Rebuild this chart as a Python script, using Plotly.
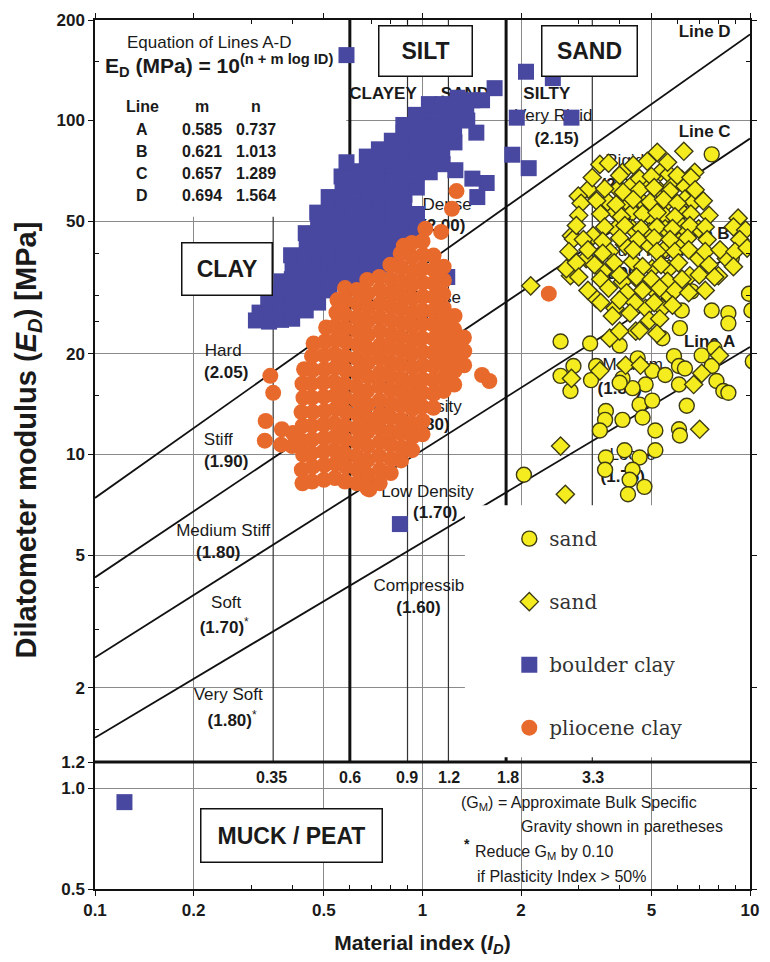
import math
import plotly.graph_objects as go

# ------------------------------------------------------------------ data
line_names = ["A", "B", "C", "D"]
line_m = [0.585, 0.621, 0.657, 0.694]
line_n = [0.737, 1.013, 1.289, 1.564]

class_bounds = [0.35, 0.6, 0.9, 1.2, 1.8, 3.3]
class_labels = ["0.35", "0.6", "0.9", "1.2", "1.8", "3.3"]

x_ticks = [0.1, 0.2, 0.5, 1, 2, 5, 10]
x_tick_text = ["0.1", "0.2", "0.5", "1", "2", "5", "10"]
y_ticks = [0.5, 1.0, 1.2, 2, 5, 10, 20, 50, 100, 200]
y_tick_text = ["0.5", "1.0", "1.2", "2", "5", "10", "20", "50", "100", "200"]
x_minor = [0.3, 0.4, 0.6, 0.7, 0.8, 0.9, 3, 4, 6, 7, 8, 9]
y_minor = [1.5, 3, 4, 15, 25, 30, 40, 150]

sand_circle = [
    (2.64, 21.8), (3.25, 21.5), (2.89, 18.4), (2.64, 17.2), (2.83, 15.5), (3.27, 16.7), (3.39, 18.4),
    (4.0, 21.2), (5.4, 22.3), (6.19, 27.0), (6.11, 23.9), (7.64, 27.0), (8.59, 26.5), (8.59, 24.7),
    (9.93, 30.3), (10.1, 27.0), (6.64, 30.8), (5.86, 19.7), (6.07, 18.4), (7.12, 19.8), (7.79, 20.8),
    (6.33, 18.1), (7.64, 18.4), (7.9, 16.6), (8.29, 15.5), (8.59, 15.3), (10.2, 19.0), (5.03, 17.8),
    (4.8, 16.2), (4.38, 15.8), (4.54, 19.4), (4.08, 16.9), (4.0, 16.4), (4.6, 14.1), (5.03, 14.5),
    (4.7, 12.9), (6.41, 14.0), (6.07, 16.2), (5.51, 17.3), (3.63, 13.5), (3.61, 12.7), (4.08, 12.7),
    (3.48, 11.8), (5.14, 11.8), (6.07, 11.9), (6.11, 11.4), (4.14, 10.3), (4.6, 9.8), (5.14, 10.3),
    (3.63, 9.8), (3.61, 9.0), (4.38, 9.0), (4.29, 8.4), (4.76, 8.0), (4.24, 7.6), (2.04, 8.7),
    (7.64, 79.2), (8.8, 38.8),
]

sand_diamond = [
    (6.28, 80.9), (5.21, 80.3), (4.86, 75.5), (3.48, 73.9), (4.08, 70.0), (5.32, 70.0), (5.66, 69.1),
    (6.78, 70.0), (6.19, 66.7), (3.21, 62.3), (2.99, 59.4), (3.95, 62.3), (4.38, 64.5), (4.96, 64.5),
    (5.32, 61.5), (5.78, 63.6), (6.33, 63.6), (3.68, 57.0), (4.17, 57.5), (4.70, 57.0), (5.51, 56.2),
    (6.33, 58.2), (6.73, 57.0), (3.89, 53.2), (4.38, 53.2), (4.93, 51.8), (5.51, 51.8), (6.19, 53.2),
    (2.85, 45.2), (3.32, 45.2), (3.89, 47.4), (4.38, 47.4), (4.93, 46.4), (5.51, 47.4), (6.19, 48.4),
    (6.97, 47.4), (2.14, 32.0), (2.89, 44.2), (2.83, 34.3), (2.75, 36.0), (3.16, 38.6), (3.39, 29.3),
    (3.87, 27.4), (3.56, 35.3), (3.73, 40.5), (4.17, 42.2), (4.38, 37.8), (4.93, 42.2), (5.51, 41.3),
    (6.07, 43.4), (6.97, 38.6), (8.01, 34.3), (8.47, 38.6), (6.55, 34.3), (5.66, 36.0), (5.03, 36.0),
    (4.08, 32.9), (4.60, 32.9), (5.03, 31.4), (5.66, 29.9), (4.80, 27.4), (5.40, 27.4), (4.93, 25.2),
    (4.48, 23.4), (3.73, 22.3), (4.0, 23.4), (3.48, 17.8), (2.85, 16.9), (4.17, 18.5), (4.63, 18.5),
    (6.73, 16.2), (7.12, 17.5), (8.07, 19.8), (7.02, 11.9), (2.64, 10.6), (2.73, 7.6),
    (3.7, 74.5), (4.4, 73.5), (5.6, 75.0),
    (3.3, 67.5), (4.0, 68.5), (4.6, 67.0), (5.0, 68.0), (6.0, 68.5), (6.6, 67.5),
    (3.6, 62.5), (4.1, 61.0), (4.6, 62.0), (5.1, 63.0), (5.7, 61.5), (6.8, 62.0),
    (3.05, 56.5), (3.4, 57.5), (3.9, 56.0), (4.4, 58.0), (4.95, 57.0), (5.45, 58.0), (6.0, 56.5), (7.2, 57.5),
    (3.0, 52.0), (3.5, 52.5), (4.05, 51.5), (4.7, 52.5), (5.2, 53.0), (5.9, 51.5), (6.6, 52.5), (7.5, 52.0), (9.2, 51.0),
    (2.95, 48.5), (3.6, 48.0), (4.15, 48.5), (4.65, 47.5), (5.2, 48.0), (5.8, 47.5), (6.55, 48.5), (7.3, 48.0),
    (8.9, 48.0), (9.7, 47.0),
    (3.1, 44.0), (3.55, 43.5), (4.0, 44.5), (4.55, 44.0), (5.1, 44.5), (5.7, 44.0), (6.45, 44.5), (7.4, 44.0), (9.3, 44.0),
    (2.8, 40.5), (3.2, 41.0), (3.55, 40.0), (4.4, 41.0), (5.2, 40.5), (5.9, 40.5), (6.5, 41.0), (7.3, 40.5),
    (8.1, 41.0), (9.0, 40.5), (9.8, 41.5),
    (2.95, 37.5), (3.35, 37.0), (3.85, 37.5), (4.7, 36.5), (5.35, 37.0), (6.05, 37.5), (7.5, 37.0), (8.9, 36.5),
    (3.0, 34.0), (3.5, 33.5), (4.0, 34.5), (4.5, 34.0), (5.0, 33.5), (5.6, 33.0), (6.2, 33.5), (7.0, 34.5), (7.8, 34.0),
    (3.2, 31.0), (3.7, 31.5), (4.2, 30.5), (4.7, 31.0), (5.3, 31.5), (5.9, 31.0), (6.5, 30.5), (7.3, 31.0),
    (3.5, 28.5), (4.0, 29.0), (4.45, 28.5), (5.1, 28.5), (5.8, 28.0),
    (3.8, 26.0), (4.3, 26.5), (5.3, 25.5), (4.6, 23.5), (5.2, 23.0),
]

boulder_clay = [
    (0.31, 25.2), (0.318, 26.6),
    (0.34, 25.0), (0.343, 27.3), (0.338, 29.4),
    (0.37, 25.3), (0.372, 27.8), (0.368, 30.5), (0.371, 33.0),
    (0.40, 25.5), (0.398, 28.0), (0.402, 30.8), (0.399, 33.5), (0.401, 36.5), (0.397, 39.5),
    (0.44, 27.0), (0.438, 29.5), (0.442, 32.5), (0.44, 35.5), (0.437, 39.0), (0.443, 42.5), (0.44, 46.0),
    (0.48, 28.5), (0.482, 31.5), (0.478, 34.5), (0.481, 38.0), (0.479, 41.5), (0.483, 45.5), (0.48, 50.0), (0.477, 53.0),
    (0.52, 31.0), (0.522, 34.0), (0.518, 37.5), (0.521, 41.0), (0.519, 45.0), (0.523, 49.0), (0.52, 54.0), (0.517, 59.0),
    (0.57, 33.0), (0.568, 36.5), (0.572, 40.0), (0.569, 44.0), (0.571, 48.0), (0.567, 52.5), (0.573, 57.5), (0.57, 63.0), (0.566, 68.0),
    (0.62, 34.0), (0.618, 37.5), (0.622, 41.0), (0.619, 45.0), (0.621, 49.5), (0.617, 54.0), (0.623, 59.0), (0.62, 64.5), (0.618, 70.5),
    (0.68, 35.0), (0.678, 38.5), (0.682, 42.0), (0.679, 46.0), (0.681, 50.5), (0.677, 55.0), (0.683, 60.0), (0.68, 66.0), (0.678, 72.0), (0.676, 78.0),
    (0.74, 37.0), (0.738, 40.5), (0.742, 44.5), (0.739, 48.5), (0.741, 53.0), (0.737, 58.0), (0.743, 63.5), (0.74, 69.5), (0.738, 76.0), (0.736, 82.0),
    (0.81, 39.0), (0.808, 43.0), (0.812, 47.0), (0.809, 51.5), (0.811, 56.0), (0.807, 61.5), (0.813, 67.0), (0.81, 73.5), (0.808, 80.0), (0.806, 87.0),
    (0.88, 42.0), (0.878, 46.0), (0.882, 50.0), (0.879, 55.0), (0.881, 60.0), (0.877, 65.5), (0.883, 71.5), (0.88, 78.0), (0.878, 85.0), (0.876, 92.0), (0.874, 97.0),
    (0.96, 44.0), (0.958, 48.0), (0.962, 52.5), (0.961, 63.0), (0.957, 69.0), (0.963, 75.0), (0.96, 82.0), (0.958, 89.0), (0.956, 97.0), (0.954, 104.0),
    (1.052, 70.0), (1.049, 76.5), (1.051, 83.5), (1.047, 91.0), (1.053, 99.0), (1.05, 107.0), (1.046, 112.0),
    (1.152, 74.0), (1.149, 81.0), (1.151, 88.0), (1.147, 96.0), (1.153, 104.0), (1.15, 112.0),
    (1.252, 86.0), (1.249, 94.0), (1.251, 102.0), (1.247, 110.0),
    (1.37, 100.0), (1.36, 110.0),
    (0.586, 157.0), (0.586, 75.0), (1.28, 117.0), (1.42, 115.0), (1.52, 115.0), (1.66, 125.0), (2.07, 140.0),
    (2.5, 134.0), (1.94, 102.0), (2.85, 102.0), (1.46, 92.0), (1.88, 79.0), (2.11, 72.0), (1.57, 65.0),
    (1.47, 59.0), (1.26, 71.0), (1.42, 67.0), (1.19, 34.0), (0.853, 6.19), (0.123, 0.91),
]

pliocene_clay = [
    (0.33, 11.0), (0.332, 12.6), (0.343, 17.2), (0.35, 15.3), (0.37, 10.7), (0.372, 11.9),
    (0.40, 10.6), (0.402, 11.6),
    (0.43, 8.2), (0.428, 9.0), (0.432, 10.0), (0.429, 11.0), (0.431, 12.2), (0.427, 13.4), (0.433, 14.8), (0.43, 16.3), (0.435, 18.0),
    (0.46, 8.3), (0.462, 9.2), (0.458, 10.1), (0.461, 11.1), (0.459, 12.2), (0.463, 13.4), (0.46, 14.8), (0.457, 16.3), (0.462, 17.9), (0.46, 19.7), (0.465, 21.5),
    (0.50, 8.4), (0.502, 9.3), (0.498, 10.2), (0.501, 11.2), (0.499, 12.3), (0.503, 13.5), (0.50, 14.9), (0.497, 16.4), (0.502, 18.0), (0.50, 19.8), (0.504, 21.8), (0.508, 24.0),
    (0.54, 8.5), (0.542, 9.4), (0.538, 10.3), (0.541, 11.3), (0.539, 12.4), (0.543, 13.7), (0.54, 15.0), (0.537, 16.5), (0.542, 18.2), (0.54, 20.0), (0.544, 22.0), (0.541, 24.2), (0.546, 26.6), (0.55, 29.0),
    (0.58, 8.3), (0.582, 9.2), (0.578, 10.1), (0.581, 11.1), (0.579, 12.2), (0.583, 13.4), (0.58, 14.8), (0.577, 16.3), (0.582, 17.9), (0.58, 19.7), (0.584, 21.7), (0.581, 23.9), (0.579, 26.3), (0.583, 28.9), (0.58, 31.5),
    (0.63, 8.2), (0.632, 9.0), (0.628, 9.9), (0.631, 10.9), (0.629, 12.0), (0.633, 13.2), (0.63, 14.5), (0.627, 16.0), (0.632, 17.6), (0.63, 19.4), (0.634, 21.3), (0.631, 23.4), (0.629, 25.7), (0.633, 28.3), (0.63, 31.1),
    (0.68, 7.9), (0.682, 8.7), (0.678, 9.6), (0.681, 10.6), (0.679, 11.7), (0.683, 12.8), (0.68, 14.1), (0.677, 15.5), (0.682, 17.1), (0.68, 18.8), (0.684, 20.7), (0.681, 22.8), (0.679, 25.0), (0.683, 27.5), (0.68, 30.3), (0.678, 33.3),
    (0.74, 8.2), (0.742, 9.0), (0.738, 9.9), (0.741, 10.9), (0.739, 12.0), (0.743, 13.2), (0.74, 14.5), (0.737, 16.0), (0.742, 17.6), (0.74, 19.4), (0.744, 21.3), (0.741, 23.4), (0.739, 25.7), (0.743, 28.3), (0.74, 31.1), (0.738, 34.0),
    (0.80, 8.8), (0.802, 9.7), (0.798, 10.7), (0.801, 11.7), (0.799, 12.9), (0.803, 14.2), (0.80, 15.6), (0.797, 17.2), (0.802, 18.9), (0.80, 20.8), (0.804, 22.9), (0.801, 25.2), (0.799, 27.7), (0.803, 30.5), (0.80, 33.5), (0.798, 37.0),
    (0.86, 9.6), (0.862, 10.5), (0.858, 11.6), (0.861, 12.7), (0.859, 14.0), (0.863, 15.4), (0.86, 16.9), (0.857, 18.6), (0.862, 20.5), (0.86, 22.5), (0.864, 24.8), (0.861, 27.3), (0.859, 30.0), (0.863, 33.0), (0.86, 36.3), (0.858, 40.0), (0.877, 42.2),
    (0.93, 10.3), (0.932, 11.3), (0.928, 12.4), (0.931, 13.7), (0.929, 15.0), (0.933, 16.5), (0.93, 18.2), (0.927, 20.0), (0.932, 22.0), (0.93, 24.2), (0.934, 26.6), (0.931, 29.3), (0.929, 32.2), (0.933, 35.4), (0.93, 39.0), (0.928, 43.0),
    (1.00, 11.5), (1.002, 12.6), (0.998, 13.9), (1.001, 15.3), (0.999, 16.8), (1.003, 18.5), (1.00, 20.3), (0.997, 22.3), (1.002, 24.6), (1.00, 27.0), (1.004, 29.7), (1.001, 32.7), (0.999, 36.0), (1.003, 39.6), (1.00, 43.5), (1.02, 47.4),
    (1.08, 13.8), (1.082, 15.2), (1.078, 16.7), (1.081, 18.4), (1.079, 20.2), (1.083, 22.2), (1.08, 24.5), (1.077, 26.9), (1.082, 29.6), (1.08, 32.6), (1.084, 35.8), (1.081, 39.4), (1.14, 46.4),
    (1.16, 15.5), (1.162, 17.0), (1.158, 18.7), (1.161, 20.6), (1.159, 22.7), (1.163, 25.0), (1.16, 27.5), (1.157, 30.2), (1.162, 33.2), (1.16, 36.5),
    (1.25, 16.2), (1.252, 17.8), (1.248, 19.6), (1.251, 21.5), (1.249, 23.7), (1.253, 26.0), (1.23, 54.4), (1.27, 61.5),
    (1.34, 18.5), (1.342, 20.4), (1.338, 22.4),
    (1.52, 17.3), (1.60, 16.6), (2.43, 30.3), (0.688, 7.86),
]

# ------------------------------------------------------------------ geometry helpers (label placement)
W, H = 770, 962
PL, PR, PT, PB = 95, 759, 20, 894
YLO, YHI = math.log10(0.5), math.log10(200)


def xdat(px):
    return 10 ** (-1 + 2 * (px - PL) / (PR - PL))


def ydat(py):
    return 10 ** (YLO + (PB - py) / (PB - PT) * (YHI - YLO))


def pap(px, py):
    return (px - PL) / (PR - PL), (PB - py) / (PB - PT)


FONT = "Liberation Sans, Arial, sans-serif"
INK = "#1a1a1a"

# ------------------------------------------------------------------ figure
fig = go.Figure()

# labels that sit underneath the data markers
under_labels = [
    ("<b>CLAYEY</b>", 387, 95), ("<b>SAND</b>", 470, 95), ("<b>SILTY</b>", 553, 95),
    ("Very Rigid", 560, 117), ("<b>(2.15)</b>", 563, 140),
    ("Rigid", 632, 163), ("<b>(2.00)</b>", 630, 187),
    ("Medium Rigid", 640, 253), ("<b>(1.95)</b>", 628, 276),
    ("Medium", 640, 368), ("<b>(1.85)</b>", 627, 392),
    ("Loose", 640, 458), ("<b>(1.75)</b>", 630, 480),
    ("<b>Line D</b>", 713, 33), ("<b>Line C</b>", 713, 133),
    ("<b>Line B</b>", 712, 236), ("<b>Line A</b>", 718, 345),
    ("Dense", 452, 207), ("<b>(2.00)</b>", 448, 228),
    ("Medium Dense", 408, 300), ("<b>(1.90)</b>", 432, 322),
    ("Medium Density", 405, 410), ("<b>(1.80)</b>", 432, 428),
    ("Low Density", 432, 495), ("<b>(1.70)</b>", 440, 517),
    ("Compressible", 430, 590), ("<b>(1.60)</b>", 423, 612),
    ("Hard", 225, 354), ("<b>(2.05)</b>", 228, 376),
    ("Stiff", 220, 443), ("<b>(1.90)</b>", 228, 465),
    ("Medium Stiff", 225, 535), ("<b>(1.80)</b>", 220, 557),
    ("Soft", 228, 607), ("<b>(1.70)</b><sup>*</sup>", 226, 632),
    ("Very Soft", 230, 700), ("<b>(1.80)</b><sup>*</sup>", 234, 726),
]
fig.add_trace(go.Scatter(
    x=[xdat(p[1]) for p in under_labels], y=[ydat(p[2]) for p in under_labels],
    text=[p[0] for p in under_labels], mode="text", showlegend=False, hoverinfo="skip",
    textfont=dict(family=FONT, size=17, color=INK),
))

yellow = "#F4EC1E"
yellow_edge = "#3d3b14"


def add_series(points, name, marker, group):
    xs = [p[0] for p in points]
    ys = [p[1] for p in points]
    fig.add_trace(go.Scatter(x=xs, y=ys, mode="markers", name=name, marker=marker,
                             legendgroup=group))


add_series(sand_circle, "sand", dict(symbol="circle", size=15, color=yellow,
                                      line=dict(color=yellow_edge, width=1.4)), "g1")
add_series(sand_diamond, "sand", dict(symbol="diamond", size=14, color=yellow,
                                       line=dict(color=yellow_edge, width=1.4)), "g2")
add_series(boulder_clay, "boulder clay", dict(symbol="square", size=16, color="#4848A0",
                                               line=dict(width=0)), "g3")
add_series(pliocene_clay, "pliocene clay", dict(symbol="circle", size=16, color="#E8692C",
                                                 line=dict(width=0)), "g4")

# ------------------------------------------------------------------ shapes
shapes = []
for v in class_bounds:
    thick = v in (0.6, 1.8)
    shapes.append(dict(type="line", xref="x", yref="y", x0=v, x1=v, y0=1.2, y1=200,
                       line=dict(color="#111" if thick else "#333", width=3 if thick else 1.2),
                       layer="between"))
for m, n in zip(line_m, line_n):
    shapes.append(dict(type="line", xref="x", yref="y", x0=0.1, x1=10,
                       y0=10 ** (n + m * math.log10(0.1)), y1=10 ** (n + m * math.log10(10)),
                       line=dict(color="#111", width=1.8), layer="between"))
shapes.append(dict(type="line", xref="x", yref="y", x0=0.1, x1=10, y0=1.2, y1=1.2,
                   line=dict(color="#111", width=3), layer="between"))
# blank panel holding the equation table
shapes.append(dict(type="rect", xref="x", yref="y", x0=0.1, x1=0.585, y0=51.5, y1=200,
                   fillcolor="white", line=dict(width=0), layer="between"))
# blank panel holding the legend
shapes.append(dict(type="rect", xref="x", yref="y", x0=xdat(470), x1=10, y0=1.24, y1=ydat(508),
                   fillcolor="white", line=dict(width=0), layer="above"))

# ------------------------------------------------------------------ annotations
ann = []


def note(text, px, py, size, xanchor="center", bold=False, **kw):
    x, y = pap(px, py)
    ann.append(dict(text=f"<b>{text}</b>" if bold else text, x=x, y=y, xref="paper", yref="paper",
                    xanchor=xanchor, yanchor="middle", showarrow=False,
                    font=dict(family=FONT, size=size, color=INK), **kw))


note("Equation of Lines A-D", 211, 43, 17)
note("E<sub>D</sub> (MPa) = 10<sup>(n + m log ID)</sup>", 221, 66, 21, bold=True)
note("Line", 143, 107, 16, bold=True)
note("m", 203, 107, 16, bold=True)
note("n", 258, 107, 16, bold=True)
for i, (nm, m, n) in enumerate(zip(line_names, line_m, line_n)):
    py = 130 + i * 22.3
    note(nm, 143, py, 16, bold=True)
    note(f"{m:.3f}", 203, py, 16, bold=True)
    note(f"{n:.3f}", 258, py, 16, bold=True)


def box(text, cx, cy, w, h, size):
    x, y = pap(cx, cy)
    ann.append(dict(text=f"<b>{text}</b>", x=x, y=y, xref="paper", yref="paper",
                    xanchor="center", yanchor="middle", showarrow=False, width=w, height=h,
                    bgcolor="white", bordercolor="#111", borderwidth=1.5, borderpad=0,
                    font=dict(family=FONT, size=size, color=INK)))


box("SILT", 430.5, 51, 92, 49, 23)
box("SAND", 596.5, 51, 94, 49, 23)
box("CLAY", 229, 270, 89, 51, 23)
box("MUCK / PEAT", 294.5, 840.5, 180, 52, 23)

for lab, px in zip(class_labels, [274, 354, 411, 454, 514, 600]):
    note(lab, px, 782, 16, bold=True)

note("(G<sub>M</sub>) = Approximate Bulk Specific", 464, 808, 16, xanchor="left")
note("Gravity shown in paretheses", 525, 831, 16, xanchor="left")
note("*", 467, 849, 14, xanchor="left", bold=True)
note("Reduce G<sub>M</sub> by 0.10", 478, 857, 16, xanchor="left")
note("if Plasticity Index > 50%", 480, 881, 16, xanchor="left")

# y-axis title (larger than the x title in the original figure)
note("Dilatometer modulus (<i>E<sub>D</sub></i>) [MPa]", 27, 442, 29, bold=True, textangle=-90)

# ------------------------------------------------------------------ layout
axis_common = dict(
    type="log", showline=True, linecolor="#111", linewidth=1.5, mirror="ticks",
    ticks="outside", ticklen=5, tickwidth=1.3, tickcolor="#111",
    showgrid=True, gridcolor="#8a8a8a", gridwidth=1,
    tickfont=dict(family=FONT, size=17, color=INK, weight="bold"),
)
fig.update_layout(
    width=W, height=H,
    margin=dict(l=PL, r=W - PR, t=PT, b=H - PB),
    paper_bgcolor="white", plot_bgcolor="white",
    xaxis=dict(axis_common, range=[-1, 1], tickvals=x_ticks, ticktext=x_tick_text,
               minor=dict(tickvals=x_minor, ticks="inside", ticklen=4, tickcolor="#111", showgrid=False),
               title=dict(text="<b>Material index (<i>I<sub>D</sub></i>)</b>",
                          font=dict(family=FONT, size=21, color=INK), standoff=16)),
    yaxis=dict(axis_common, range=[YLO, YHI], tickvals=y_ticks, ticktext=y_tick_text,
               minor=dict(tickvals=y_minor, ticks="inside", ticklen=4, tickcolor="#111", showgrid=False)),
    shapes=shapes,
    annotations=ann,
    showlegend=True,
    legend=dict(x=(515 - PL) / (PR - PL), y=(PB - 522) / (PB - PT), xanchor="left", yanchor="top",
                bgcolor="rgba(0,0,0,0)", font=dict(family="DejaVu Serif", size=20, color="#333"),
                tracegroupgap=34, itemsizing="trace", itemwidth=30),
)

fig.write_html("out.html")
